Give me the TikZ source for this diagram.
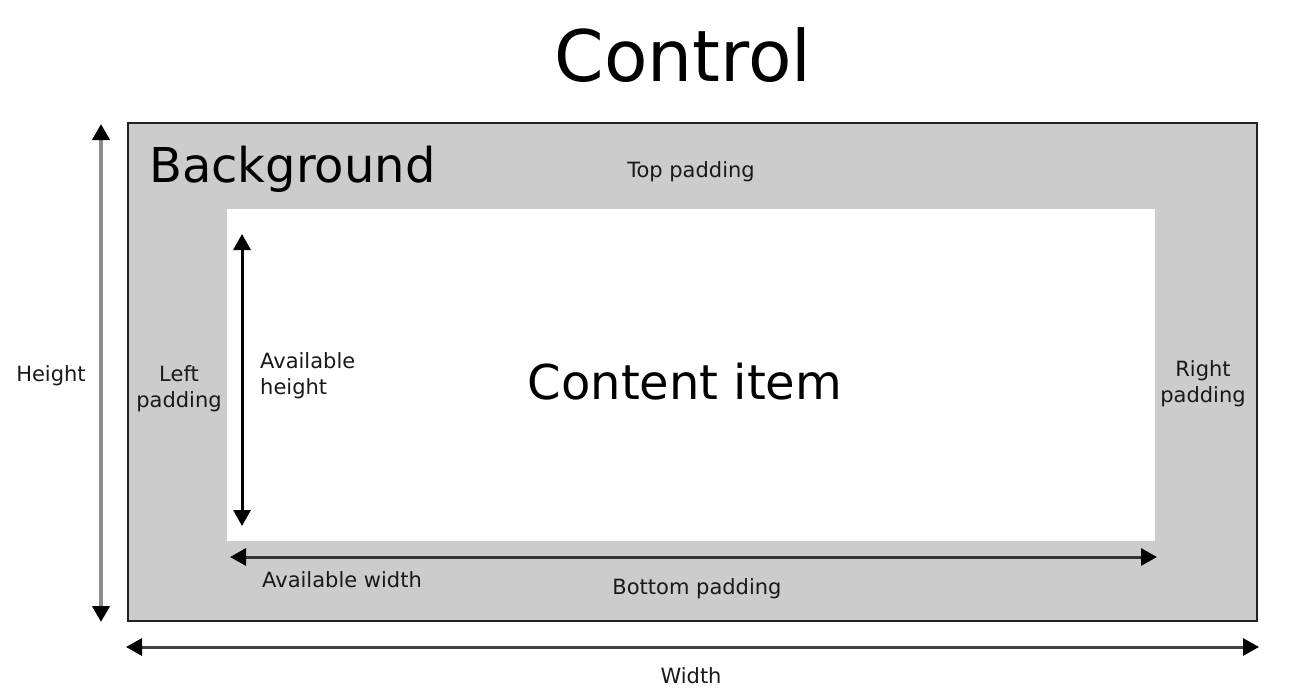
\documentclass[tikz,border=0pt]{standalone}
\usepackage{fontspec}
\setmainfont{DejaVu Sans}
\usetikzlibrary{arrows.meta}
\definecolor{padgray}{HTML}{CCCCCC}
\definecolor{edgegray}{HTML}{222222}
\begin{document}
\begin{tikzpicture}[x=1pt,y=-1pt,
  lbl/.style={font=\fontsize{21}{26}\selectfont, text=black!90, inner sep=0pt, align=center},
  dim/.style={line width=3pt,
    arrows={Triangle[length=16pt,width=17pt,color=black]-Triangle[length=16pt,width=17pt,color=black]}},
]
\useasboundingbox (0,0) rectangle (1295,697);
% padding area and content area
\filldraw[fill=padgray, draw=edgegray, line width=2.5pt] (128,123) rectangle (1257,621);
\fill[white] (227,209) rectangle (1155,541);
% titles
\node (ctrl) at (683,55) {\fontsize{71}{80}\selectfont Control};
\node[anchor=base west, inner sep=0pt] (bg) at (149,182) {\fontsize{48}{54}\selectfont Background};
\node (ci) at (685,382) {\fontsize{48}{56}\selectfont Content item};
% labels
\node[lbl] (top) at (691,172) {Top padding};
\node[lbl] (bot) at (697,589) {Bottom padding};
\node[lbl] (left) at (179,389) {Left\\padding};
\node[lbl] (right) at (1203,384) {Right\\padding};
\node[lbl, align=left, anchor=west] (ah) at (260,376) {Available\\height};
\node[lbl, anchor=west] (aw) at (262,580) {Available width};
\node[lbl] (h) at (51,376) {Height};
\node[lbl] (w) at (691,676) {Width};
% dimension arrows
\coordinate (hT) at (101,124); \coordinate (hB) at (101,622);
\coordinate (wL) at (126,647); \coordinate (wR) at (1259,647);
\coordinate (ahT) at (242,234); \coordinate (ahB) at (242,526);
\coordinate (awL) at (230,557); \coordinate (awR) at (1157,557);
\draw[dim, draw=black!45, line width=4pt] (hT) -- (hB);
\draw[dim, draw=black!75] (wL) -- (wR);
\draw[dim, draw=black] (ahT) -- (ahB);
\draw[dim, draw=black!80] (awL) -- (awR);
\end{tikzpicture}
\end{document}
